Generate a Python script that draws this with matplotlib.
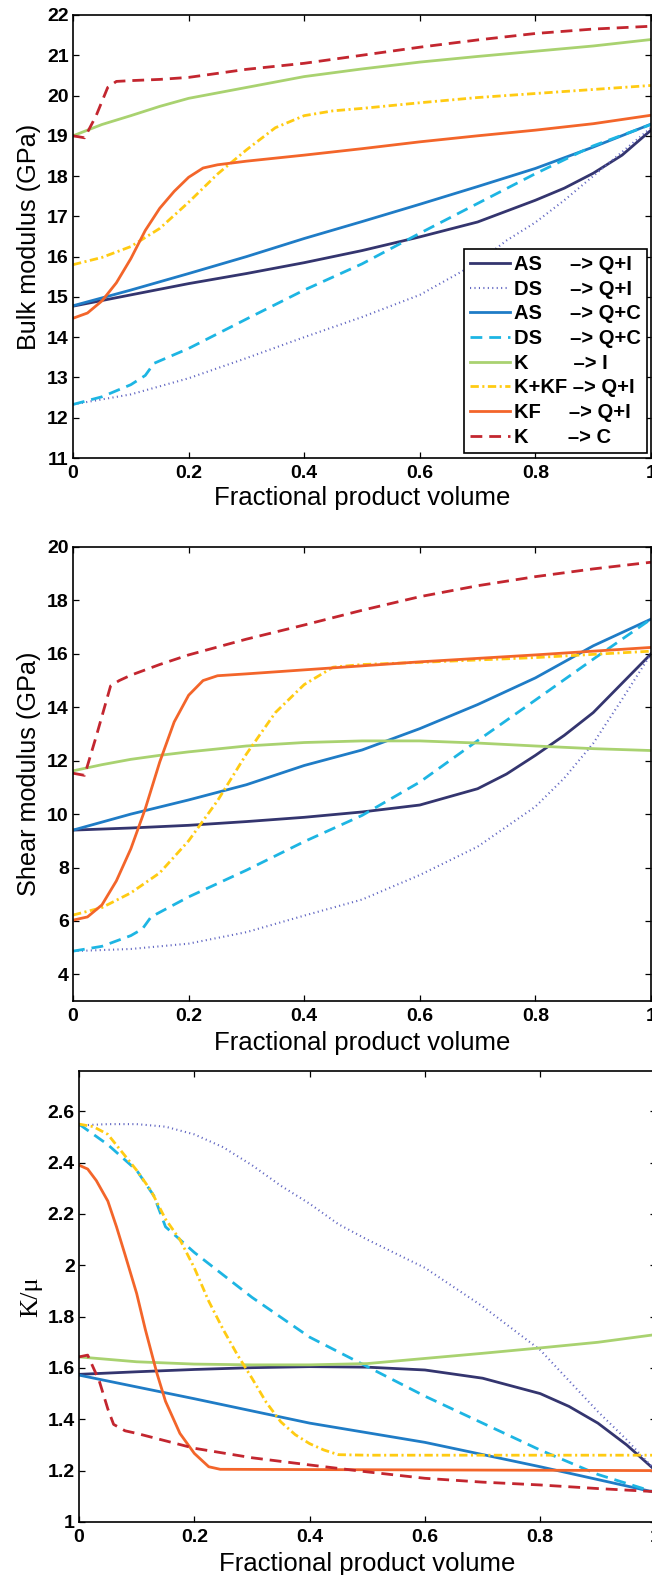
import matplotlib
matplotlib.use("Agg")
import matplotlib.pyplot as plt
from matplotlib.ticker import FuncFormatter

plt.rcParams['font.family'] = ['Liberation Sans', 'DejaVu Sans']
plt.rcParams['lines.scale_dashes'] = False

# legend / series names (same order in all three panels)
labels = ['AS     \u2013> Q+I', 'DS     \u2013> Q+I', 'AS     \u2013> Q+C',
          'DS     \u2013> Q+C', 'K        \u2013> I', 'K+KF \u2013> Q+I',
          'KF     \u2013> Q+I', 'K       \u2013> C']

# ---------------- bulk modulus (GPa) ----------------
bulk_as_qi_x = [0, 0.1, 0.2, 0.3, 0.4, 0.5, 0.6, 0.7, 0.8, 0.85, 0.9, 0.95, 1.0]
bulk_as_qi_y = [14.77, 15.05, 15.33, 15.58, 15.85, 16.15, 16.49, 16.86, 17.4, 17.7, 18.07, 18.52, 19.14]
bulk_ds_qi_x = [0, 0.1, 0.2, 0.3, 0.4, 0.5, 0.6, 0.7, 0.75, 0.8, 0.85, 0.9, 0.95, 1.0]
bulk_ds_qi_y = [12.33, 12.58, 12.98, 13.48, 14.0, 14.5, 15.05, 15.85, 16.4, 16.85, 17.4, 18.0, 18.6, 19.2]
bulk_as_qc_x = [0, 0.1, 0.2, 0.3, 0.4, 0.5, 0.6, 0.7, 0.8, 0.9, 1.0]
bulk_as_qc_y = [14.78, 15.17, 15.58, 16.0, 16.45, 16.87, 17.3, 17.74, 18.19, 18.72, 19.29]
bulk_ds_qc_x = [0, 0.05, 0.1, 0.125, 0.14, 0.2, 0.3, 0.4, 0.5, 0.6, 0.7, 0.8, 0.9, 1.0]
bulk_ds_qc_y = [12.33, 12.52, 12.82, 13.05, 13.35, 13.72, 14.45, 15.17, 15.82, 16.58, 17.32, 18.06, 18.75, 19.28]
bulk_k_i_x = [0, 0.05, 0.1, 0.15, 0.2, 0.3, 0.4, 0.5, 0.6, 0.7, 0.8, 0.9, 1.0]
bulk_k_i_y = [19.0, 19.28, 19.5, 19.73, 19.93, 20.2, 20.47, 20.66, 20.83, 20.97, 21.1, 21.23, 21.39]
bulk_kkf_qi_x = [0, 0.05, 0.1, 0.15, 0.2, 0.25, 0.3, 0.35, 0.4, 0.45, 0.5, 0.6, 0.7, 0.8, 0.9, 1.0]
bulk_kkf_qi_y = [15.8, 15.98, 16.25, 16.7, 17.35, 18.05, 18.65, 19.2, 19.5, 19.62, 19.68, 19.82, 19.95, 20.05, 20.15, 20.25]
bulk_kf_qi_x = [0, 0.025, 0.05, 0.075, 0.1, 0.125, 0.15, 0.175, 0.2, 0.225, 0.25, 0.3, 0.4, 0.5, 0.6, 0.7, 0.8, 0.9, 1.0]
bulk_kf_qi_y = [14.47, 14.6, 14.9, 15.35, 15.95, 16.65, 17.2, 17.62, 17.97, 18.2, 18.28, 18.37, 18.52, 18.68, 18.85, 19.0, 19.14, 19.3, 19.51]
bulk_k_c_x = [0, 0.02, 0.04, 0.06, 0.075, 0.1, 0.15, 0.2, 0.25, 0.3, 0.4, 0.5, 0.6, 0.7, 0.8, 0.9, 1.0]
bulk_k_c_y = [19.0, 18.95, 19.5, 20.2, 20.35, 20.37, 20.4, 20.45, 20.55, 20.65, 20.8, 21.0, 21.2, 21.38, 21.54, 21.65, 21.72]

# ---------------- shear modulus (GPa) ----------------
shear_as_qi_x = [0, 0.1, 0.2, 0.3, 0.4, 0.5, 0.6, 0.7, 0.75, 0.8, 0.85, 0.9, 0.95, 1.0]
shear_as_qi_y = [9.4, 9.48, 9.58, 9.72, 9.88, 10.08, 10.34, 10.95, 11.5, 12.2, 12.95, 13.8, 14.9, 16.0]
shear_ds_qi_x = [0, 0.1, 0.2, 0.3, 0.4, 0.5, 0.6, 0.7, 0.8, 0.85, 0.9, 0.95, 1.0]
shear_ds_qi_y = [4.87, 4.95, 5.15, 5.58, 6.2, 6.8, 7.72, 8.78, 10.28, 11.35, 12.65, 14.3, 16.0]
shear_as_qc_x = [0, 0.1, 0.2, 0.3, 0.4, 0.5, 0.6, 0.7, 0.8, 0.9, 1.0]
shear_as_qc_y = [9.4, 10.0, 10.53, 11.1, 11.82, 12.4, 13.2, 14.1, 15.1, 16.3, 17.3]
shear_ds_qc_x = [0, 0.05, 0.1, 0.12, 0.135, 0.2, 0.3, 0.4, 0.5, 0.6, 0.7, 0.8, 0.9, 1.0]
shear_ds_qc_y = [4.87, 5.05, 5.45, 5.7, 6.15, 6.9, 7.9, 8.97, 9.95, 11.2, 12.75, 14.27, 15.8, 17.3]
shear_k_i_x = [0, 0.05, 0.1, 0.15, 0.2, 0.3, 0.4, 0.5, 0.6, 0.7, 0.8, 0.9, 1.0]
shear_k_i_y = [11.62, 11.85, 12.05, 12.2, 12.33, 12.55, 12.68, 12.74, 12.74, 12.66, 12.55, 12.45, 12.38]
shear_kkf_qi_x = [0, 0.05, 0.1, 0.15, 0.2, 0.25, 0.3, 0.35, 0.4, 0.45, 0.5, 0.6, 0.7, 0.8, 0.9, 1.0]
shear_kkf_qi_y = [6.22, 6.5, 7.05, 7.8, 9.0, 10.5, 12.25, 13.8, 14.85, 15.5, 15.6, 15.68, 15.77, 15.86, 15.98, 16.1]
shear_kf_qi_x = [0, 0.025, 0.05, 0.075, 0.1, 0.125, 0.15, 0.175, 0.2, 0.225, 0.25, 0.3, 0.4, 0.5, 0.6, 0.7, 0.8, 0.9, 1.0]
shear_kf_qi_y = [6.03, 6.15, 6.6, 7.5, 8.7, 10.2, 11.95, 13.45, 14.45, 15.0, 15.18, 15.25, 15.4, 15.55, 15.7, 15.83, 15.96, 16.1, 16.24]
shear_k_c_x = [0, 0.02, 0.04, 0.065, 0.08, 0.1, 0.15, 0.2, 0.3, 0.4, 0.5, 0.6, 0.7, 0.8, 0.9, 1.0]
shear_k_c_y = [11.53, 11.45, 12.9, 14.8, 15.0, 15.2, 15.6, 15.96, 16.55, 17.08, 17.63, 18.14, 18.55, 18.89, 19.18, 19.43]

# ---------------- K/mu ----------------
ratio_as_qi_x = [0, 0.1, 0.2, 0.3, 0.4, 0.5, 0.6, 0.7, 0.8, 0.85, 0.9, 0.95, 1.0]
ratio_as_qi_y = [1.575, 1.585, 1.594, 1.601, 1.605, 1.603, 1.592, 1.56, 1.5, 1.45, 1.385, 1.3, 1.2]
ratio_ds_qi_x = [0, 0.05, 0.1, 0.15, 0.2, 0.25, 0.3, 0.35, 0.4, 0.45, 0.5, 0.6, 0.7, 0.8, 0.85, 0.9, 0.95, 1.0]
ratio_ds_qi_y = [2.545, 2.55, 2.55, 2.54, 2.51, 2.46, 2.39, 2.31, 2.24, 2.16, 2.1, 1.99, 1.84, 1.67, 1.55, 1.43, 1.32, 1.2]
ratio_as_qc_x = [0, 0.2, 0.4, 0.6, 0.8, 1.0]
ratio_as_qc_y = [1.572, 1.48, 1.385, 1.31, 1.215, 1.115]
ratio_ds_qc_x = [0, 0.05, 0.1, 0.13, 0.15, 0.2, 0.3, 0.4, 0.5, 0.6, 0.7, 0.8, 0.9, 1.0]
ratio_ds_qc_y = [2.55, 2.47, 2.37, 2.27, 2.15, 2.05, 1.875, 1.72, 1.605, 1.49, 1.385, 1.28, 1.185, 1.115]
ratio_k_i_x = [0, 0.1, 0.2, 0.3, 0.4, 0.5, 0.6, 0.7, 0.8, 0.9, 1.0]
ratio_k_i_y = [1.643, 1.624, 1.615, 1.612, 1.612, 1.617, 1.637, 1.657, 1.678, 1.70, 1.73]
ratio_kkf_qi_x = [0, 0.025, 0.05, 0.075, 0.1, 0.125, 0.15, 0.175, 0.2, 0.225, 0.25, 0.275, 0.3, 0.325, 0.35, 0.375, 0.4, 0.425, 0.45, 0.5, 1.0]
ratio_kkf_qi_y = [2.55, 2.54, 2.51, 2.44, 2.37, 2.29, 2.18, 2.1, 1.99, 1.86, 1.75, 1.65, 1.56, 1.465, 1.39, 1.34, 1.305, 1.28, 1.262, 1.26, 1.26]
ratio_kf_qi_x = [0, 0.015, 0.03, 0.05, 0.065, 0.08, 0.1, 0.115, 0.135, 0.15, 0.175, 0.2, 0.225, 0.245, 1.0]
ratio_kf_qi_y = [2.39, 2.375, 2.33, 2.25, 2.15, 2.04, 1.89, 1.75, 1.58, 1.47, 1.345, 1.267, 1.215, 1.205, 1.2]
ratio_k_c_x = [0, 0.015, 0.035, 0.05, 0.06, 0.08, 0.1, 0.2, 0.3, 0.4, 0.5, 0.6, 0.7, 0.8, 0.9, 1.0]
ratio_k_c_y = [1.643, 1.65, 1.55, 1.44, 1.38, 1.355, 1.345, 1.287, 1.25, 1.222, 1.195, 1.17, 1.155, 1.144, 1.13, 1.118]

# line styles, same order as labels
colors = ['#34356f', '#6166c2', '#1f7cc6', '#1db5e3', '#a9d270', '#ffcb12', '#f3652a', '#c3262f']
styles = ['-', (0, (0.8, 2.4)), '-', (0, (8.5, 5)), '-', (0, (6, 2.5, 1.5, 2.5)), '-', (0, (8.5, 5))]
widths = [2.0, 1.5, 2.0, 2.0, 2.0, 2.0, 2.0, 2.0]

bulk = [(bulk_as_qi_x, bulk_as_qi_y), (bulk_ds_qi_x, bulk_ds_qi_y), (bulk_as_qc_x, bulk_as_qc_y),
        (bulk_ds_qc_x, bulk_ds_qc_y), (bulk_k_i_x, bulk_k_i_y), (bulk_kkf_qi_x, bulk_kkf_qi_y),
        (bulk_kf_qi_x, bulk_kf_qi_y), (bulk_k_c_x, bulk_k_c_y)]
shear = [(shear_as_qi_x, shear_as_qi_y), (shear_ds_qi_x, shear_ds_qi_y), (shear_as_qc_x, shear_as_qc_y),
         (shear_ds_qc_x, shear_ds_qc_y), (shear_k_i_x, shear_k_i_y), (shear_kkf_qi_x, shear_kkf_qi_y),
         (shear_kf_qi_x, shear_kf_qi_y), (shear_k_c_x, shear_k_c_y)]
ratio = [(ratio_as_qi_x, ratio_as_qi_y), (ratio_ds_qi_x, ratio_ds_qi_y), (ratio_as_qc_x, ratio_as_qc_y),
         (ratio_ds_qc_x, ratio_ds_qc_y), (ratio_k_i_x, ratio_k_i_y), (ratio_kkf_qi_x, ratio_kkf_qi_y),
         (ratio_kf_qi_x, ratio_kf_qi_y), (ratio_k_c_x, ratio_k_c_y)]

fig = plt.figure(figsize=(6.52, 15.75), dpi=100)
ax1 = fig.add_axes([0.112, 0.7092, 0.8865, 0.2813])
ax2 = fig.add_axes([0.112, 0.3644, 0.8865, 0.2883])
ax3 = fig.add_axes([0.1212, 0.0337, 0.8842, 0.2863])

fmt = FuncFormatter(lambda v, p: '%g' % round(v, 3))

def setup(ax, data, ylim, yticks, ylabel, lab_x, xlab_y, serif=False):
    for (x, y), c, ls, lw, lab in zip(data, colors, styles, widths, labels):
        ax.plot(x, y, color=c, linestyle=ls, linewidth=lw, label=lab)
    ax.set_xlim(0, 1)
    ax.set_ylim(*ylim)
    ax.set_xticks([0, 0.2, 0.4, 0.6, 0.8, 1.0])
    ax.set_yticks(yticks)
    ax.xaxis.set_major_formatter(fmt)
    ax.yaxis.set_major_formatter(fmt)
    ax.tick_params(direction='in', top=True, right=True, length=4.5, width=0.9,
                   labelsize=14)
    ax.tick_params(axis='x', pad=5)
    ax.tick_params(axis='y', pad=3)
    for t in ax.get_xticklabels() + ax.get_yticklabels():
        t.set_fontweight('bold')
    for s in ax.spines.values():
        s.set_linewidth(1.2)
    ax.set_xlabel('Fractional product volume', fontsize=18.5)
    ax.xaxis.set_label_coords(0.5, xlab_y)
    if serif:
        ax.set_ylabel(ylabel, fontsize=19, family=['Liberation Serif', 'DejaVu Serif'])
    else:
        ax.set_ylabel(ylabel, fontsize=18.2)
    ax.yaxis.set_label_coords(lab_x, 0.5)

setup(ax1, bulk, (11, 22), range(11, 23), 'Bulk modulus (GPa)', -0.055, -0.063)
setup(ax2, shear, (3, 20), range(4, 21, 2), 'Shear modulus (GPa)', -0.055, -0.067)
setup(ax3, ratio, (1, 2.757), [1, 1.2, 1.4, 1.6, 1.8, 2, 2.2, 2.4, 2.6], 'K/\u03bc', -0.063, -0.066,
      serif=True)

leg = ax1.legend(loc='lower right', bbox_to_anchor=(0.993, 0.012), fancybox=False,
                 framealpha=1, edgecolor='black', borderpad=0.3, labelspacing=0.28,
                 handlelength=2.0, handletextpad=0.2, borderaxespad=0,
                 prop={'weight': 'bold', 'size': 14.5})
leg.get_frame().set_linewidth(1.2)

fig.savefig('out.png', dpi=100)
